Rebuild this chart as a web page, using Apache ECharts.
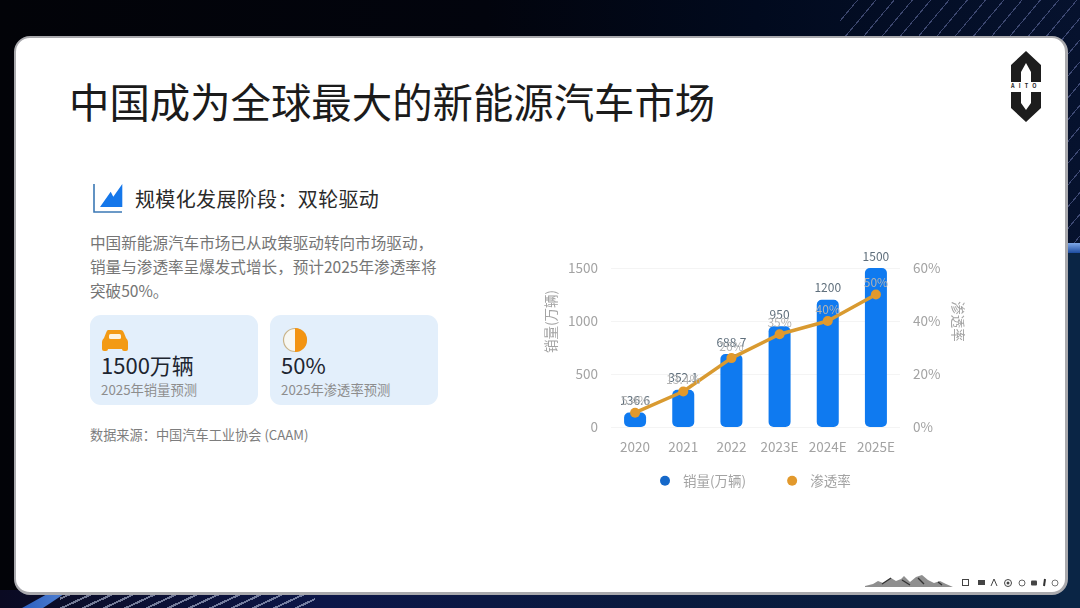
<!DOCTYPE html>
<html>
<head>
<meta charset="utf-8">
<script src="https://cdn.jsdelivr.net/npm/echarts@6/dist/echarts.min.js"></script>
<style>
html, body { margin: 0; padding: 0; width: 1080px; height: 608px; overflow: hidden; background: #02040c; }
body { font-family: "Noto Sans CJK SC", "Noto Sans", sans-serif; position: relative; }
.bg { position: absolute; left: 0; top: 0; width: 1080px; height: 608px;
  background: linear-gradient(90deg, #020308 0%, #02040d 45%, #010a1e 70%, #06122e 100%); }
.bg-bottom { position: absolute; left: 0; top: 590px; width: 1080px; height: 18px;
  background: linear-gradient(90deg, #0a0a22 0%, #0c1648 30%, #0a1a3e 60%, #08203f 100%); }
.bg-right { position: absolute; left: 1060px; top: 250px; width: 20px; height: 358px; background: #0a2545; }
.streak { position: absolute; left: 1060px; top: 243px; width: 20px; height: 10px; background: linear-gradient(180deg, #7fa8e8, #1d4ca0); }
.streak-left { position: absolute; left: 22px; top: 594px; width: 42px; height: 14px; background: linear-gradient(90deg, #2b5fc0, #4f7fd0); clip-path: polygon(0 100%, 60% 0, 100% 0, 50% 100%); }
.lines-top { position: absolute; left: 840px; top: 0; width: 240px; height: 243px;
  background: repeating-linear-gradient(130deg, transparent 0 13px, rgba(130,140,200,.45) 13px 14px); }
.lines-bottom { position: absolute; left: 60px; top: 590px; width: 255px; height: 18px;
  background: repeating-linear-gradient(155deg, transparent 0 7px, rgba(200,210,235,.55) 7px 9px); }
.slide { position: absolute; left: 14px; top: 36px; width: 1049px; height: 554px; background: #fff;
  border: 2px solid #a9a9ad; border-right-width: 3px; border-bottom-width: 3px; border-radius: 16px; }
.t { position: absolute; white-space: nowrap; line-height: 1; }
.card { position: absolute; top: 315px; width: 168px; height: 90px; background: #e3effb; border-radius: 11px; }
#main { position: absolute; left: 540px; top: 240px; width: 480px; height: 260px; }
svg { position: absolute; }
</style>
</head>
<body>
<div class="bg"></div>
<div class="bg-bottom"></div>
<div class="bg-right"></div>
<div class="streak"></div>
<div class="lines-top"></div>
<div class="lines-bottom"></div>
<div class="streak-left"></div>
<div class="slide"></div>

<div class="t" style="left:69px;top:81px;font-size:40.4px;color:#1b1b1b;">中国成为全球最大的新能源汽车市场</div>

<!-- 标题图标 -->
<svg style="left:92px;top:183px" width="32" height="32" viewBox="0 0 32 32">
  <path d="M2 1V29H30" fill="none" stroke="#3b78b5" stroke-width="1.6"/>
  <path d="M8 24L18.7 8.7L21.3 13.7L30.3 1V24Z" fill="#1577ea"/>
</svg>
<div class="t" style="left:135px;top:189px;font-size:20px;letter-spacing:0.35px;color:#2a2a2a;">规模化发展阶段&#xFF1A;双轮驱动</div>

<div class="t" style="left:90px;top:235px;font-size:15.6px;color:#757575;">中国新能源汽车市场已从政策驱动转向市场驱动&#xFF0C;</div>
<div class="t" style="left:90px;top:259px;font-size:15.6px;color:#757575;">销量与渗透率呈爆发式增长&#xFF0C;预计2025年渗透率将</div>
<div class="t" style="left:90px;top:283px;font-size:15.6px;color:#757575;">突破50%。</div>

<div class="card" style="left:90px"></div>
<div class="card" style="left:270px"></div>
<svg style="left:102px;top:330px" width="26" height="23" viewBox="0 0 26 23">
  <path d="M6 0H19Q21 0 22 3L24 8Q26 10 26 12V19Q26 21 24 21H22Q20 21 20 19H6Q6 21 4 21H2Q0 21 0 19V12Q0 10 2 8L4 3Q5 0 6 0Z" fill="#f39a14"/>
  <rect x="7" y="4" width="12" height="5" rx="1.5" fill="#fdf3df"/>
</svg>
<svg style="left:282px;top:327px" width="26" height="26" viewBox="0 0 26 26">
  <circle cx="13" cy="13" r="11.5" fill="#f7f7f2" stroke="#c9b48a" stroke-width="1.2"/>
  <path d="M13 1A12 12 0 0 1 13 25Z" fill="#f39412"/>
</svg>
<div class="t" style="left:101px;top:353px;font-size:22px;color:#1d2530;">1500万辆</div>
<div class="t" style="left:281px;top:353px;font-size:22px;color:#1d2530;">50%</div>
<div class="t" style="left:101px;top:383px;font-size:13.3px;color:#8d8d8d;">2025年销量预测</div>
<div class="t" style="left:281px;top:383px;font-size:13.3px;color:#8d8d8d;">2025年渗透率预测</div>
<div class="t" style="left:90px;top:428px;font-size:13.2px;color:#7d7d7d;">数据来源&#xFF1A;中国汽车工业协会 (CAAM)</div>

<!-- AITO 标志 -->
<svg style="left:1009px;top:50px" width="34" height="74" viewBox="0 0 34 74">
  <path d="M17 1L32 15V32H22V22L17 13L12 22V32H2V15Z" fill="#1d1d1d"/>
  <path d="M2 42H12V53L17 60L22 53V42H32V58L17 72L2 58Z" fill="#1d1d1d"/>
</svg>
<div class="t" style="left:1011px;top:84px;font-size:5.5px;letter-spacing:4.2px;font-weight:700;color:#1d1d1d;">AITO</div>

<!-- 页脚装饰 -->
<svg style="left:864px;top:572px" width="196" height="18" viewBox="0 0 196 18">
  <path d="M1 14L9 12L14 9L19 11L27 6L32 9L37 7L40 4L46 10L52 5L58 3L64 8L70 11L76 9L82 12L89 15H1Z" fill="#8f8f8f"/>
  <path d="M18 12L27 6M38 8L46 13M54 6L60 12M74 10L78 13" stroke="#333" stroke-width="1.4" fill="none"/>
  <rect x="98.5" y="7.5" width="6" height="6" fill="none" stroke="#444"/>
  <rect x="114" y="8" width="7" height="5" fill="#444"/>
  <path d="M130 7L127 14M130 7L133 14" fill="none" stroke="#444"/>
  <circle cx="144" cy="11" r="3.5" fill="none" stroke="#444"/>
  <circle cx="144" cy="11" r="1.5" fill="#444"/>
  <circle cx="158" cy="11" r="3" fill="none" stroke="#666"/>
  <rect x="167" y="8.5" width="6" height="5" rx="1" fill="#444"/>
  <path d="M181 7L180 14" stroke="#333" stroke-width="2"/>
  <circle cx="191" cy="11" r="3" fill="none" stroke="#777"/>
</svg>

<div id="main"></div>

<script>
var categories = ['2020', '2021', '2022', '2023E', '2024E', '2025E'];
var salesValues = [136.6, 352.1, 688.7, 950, 1200, 1500];
var rateValues = [5.4, 13.4, 26, 35, 40, 50];

var myChart = echarts.init(document.getElementById('main'));
var fontFamily = '"Noto Sans CJK SC", "Noto Sans", sans-serif';
myChart.setOption({
    animation: false,
    textStyle: { fontFamily: fontFamily },
    grid: { left: 71, right: 120, top: 28, height: 159, outerBoundsMode: 'none' },
    legend: {
        left: 115,
        top: 229,
        icon: 'circle',
        itemWidth: 26,
        itemHeight: 10,
        itemGap: 41,
        textStyle: { color: '#a3a3a3', fontSize: 13.5 },
        data: [
            { name: '销量(万辆)', itemStyle: { color: '#1568c9' } },
            { name: '渗透率', itemStyle: { color: '#e2992c' } },
        ],
    },
    xAxis: [{
        type: 'category',
        data: categories,
        axisLine: { show: false },
        axisTick: { show: false },
        axisLabel: { color: '#a3a3a3', fontSize: 13.5, margin: 13, interval: 0 },
    }],
    yAxis: [{
        type: 'value',
        name: '销量(万辆)',
        nameLocation: 'middle',
        nameGap: 50,
        nameTextStyle: { color: '#a3a3a3', fontSize: 13.5, padding: [0, 0, 0, 52] },
        min: 0,
        max: 1500,
        interval: 500,
        axisLine: { show: false },
        axisTick: { show: false },
        axisLabel: { color: '#a3a3a3', fontSize: 13.5, margin: 13, formatter: function (v) { return String(v); } },
        splitLine: { lineStyle: { color: '#f4f4f4' } },
    }, {
        type: 'value',
        name: '渗透率',
        nameLocation: 'middle',
        nameGap: 46,
        nameRotate: -90,
        nameTextStyle: { color: '#a3a3a3', fontSize: 13.5, padding: [0, 52, 0, 0] },
        min: 0,
        max: 60,
        interval: 20,
        axisLine: { show: false },
        axisTick: { show: false },
        axisLabel: { color: '#a3a3a3', fontSize: 13.5, margin: 13, formatter: '{value}%' },
        splitLine: { show: false },
    }],
    series: [{
        name: '销量(万辆)',
        type: 'bar',
        barWidth: 22,
        itemStyle: { color: '#0f7af0', borderRadius: 5 },
        label: { show: true, position: 'top', distance: 6, color: '#5f6f7c', fontSize: 12 },
        data: salesValues,
    }, {
        name: '渗透率',
        type: 'line',
        yAxisIndex: 1,
        symbol: 'circle',
        symbolSize: 10,
        lineStyle: { color: '#d99a30', width: 3.5 },
        itemStyle: { color: '#e2992c' },
        label: { show: true, position: 'top', distance: 1, color: '#b3b3b3', fontSize: 12, formatter: '{c}%' },
        data: rateValues,
    }],
});
</script>
</body>
</html>
